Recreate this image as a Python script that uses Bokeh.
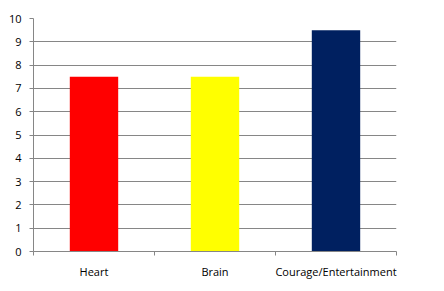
from bokeh.plotting import figure
from bokeh.models import FixedTicker, Range1d, ColumnDataSource
from bokeh.embed import file_html
from bokeh.resources import INLINE
import numpy as np

categories = ["Heart", "Brain", "Courage/Entertainment"]
values = [7.5, 7.5, 9.5]
colors = ["#FF0000", "#FFFF00", "#002060"]
y_ticks = list(range(0, 11))

xpos = (np.arange(len(categories)) + 0.5).tolist()
src = ColumnDataSource(dict(x=xpos, top=values, color=colors))

p = figure(width=444, height=291, output_backend="svg", toolbar_location=None,
           x_range=Range1d(0, len(categories)), y_range=Range1d(0, 10),
           min_border_left=33, min_border_right=48, min_border_top=18, min_border_bottom=40)
p.outline_line_color = None
p.background_fill_color = "white"
p.border_fill_color = "white"

p.vbar(x="x", top="top", width=0.4, bottom=0, fill_color="color", line_color=None, source=src)

p.xgrid.grid_line_color = None
p.ygrid.grid_line_color = "#868686"
p.ygrid.ticker = FixedTicker(ticks=y_ticks)

p.yaxis.ticker = FixedTicker(ticks=y_ticks)
p.yaxis.axis_line_color = "#868686"
p.yaxis.major_tick_line_color = "#868686"
p.yaxis.major_tick_out = 4
p.yaxis.major_tick_in = 0
p.yaxis.minor_tick_line_color = None
p.yaxis.major_label_standoff = 8

p.xaxis.ticker = FixedTicker(ticks=xpos, minor_ticks=list(range(len(categories) + 1)))
p.xaxis.major_label_overrides = {x: c for x, c in zip(xpos, categories)}
p.xaxis.axis_line_color = "#868686"
p.xaxis.major_tick_line_color = None
p.xaxis.minor_tick_line_color = "#868686"
p.xaxis.minor_tick_out = 4
p.xaxis.minor_tick_in = 0
p.xaxis.major_label_standoff = 6

for ax in (p.xaxis, p.yaxis):
    ax.major_label_text_font = "Open Sans"
    ax.major_label_text_font_size = "11px"
    ax.major_label_text_color = "black"

open("out.html", "w").write(file_html(p, INLINE))
